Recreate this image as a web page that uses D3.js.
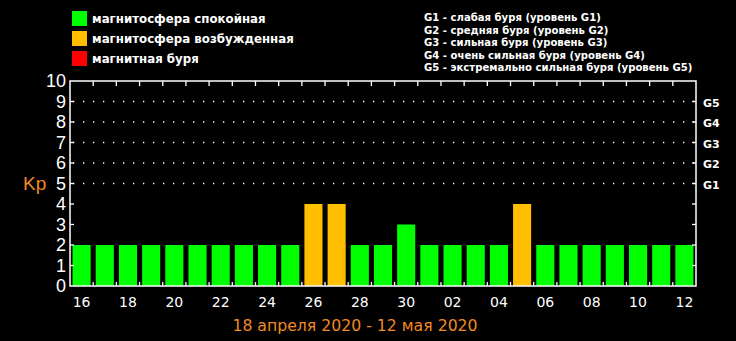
<!DOCTYPE html>
<html><head><meta charset="utf-8">
<script src="https://cdn.jsdelivr.net/npm/d3@7"></script>
<style>html,body{margin:0;padding:0;background:#000;}svg{display:block;}</style>
</head><body>
<script>
const days = ["16","17","18","19","20","21","22","23","24","25","26","27","28","29","30","01","02","03","04","05","06","07","08","09","10","11","12"];
const kp =   [2,2,2,2,2,2,2,2,2,2,4,4,2,2,3,2,2,2,2,4,2,2,2,2,2,2,2];
const yTicks = [0,1,2,3,4,5,6,7,8,9,10];
const gLevels = ["G1","G2","G3","G4","G5"];
const gDescriptions = [
  "G1 - слабая буря (уровень G1)",
  "G2 - средняя буря (уровень G2)",
  "G3 - сильная буря (уровень G3)",
  "G4 - очень сильная буря (уровень G4)",
  "G5 - экстремально сильная буря (уровень G5)"
];
const legendLabels = ["магнитосфера спокойная","магнитосфера возбужденная","магнитная буря"];
const legendColors = ["#00ff00","#ffbf00","#ff0000"];
const title = "18 апреля 2020 - 12 мая 2020";

const W = 736, H = 341;
const svg = d3.select("body").append("svg").attr("width", W).attr("height", H);
svg.append("rect").attr("width", W).attr("height", H).attr("fill", "#000");

const L = 70, R = 696, T = 81, B = 286;
const x = d3.scaleBand().domain(days.map((d,i)=>i)).range([L, R]).paddingInner(0.22).paddingOuter(0.11);
const y = d3.scaleLinear().domain([0,10]).range([B, T]);
const color = v => v >= 5 ? legendColors[2] : (v >= 4 ? legendColors[1] : legendColors[0]);

// dotted grid for 5..9
svg.append("g").selectAll("line").data([5,6,7,8,9]).join("line")
  .attr("x1", L+3).attr("x2", R).attr("y1", d=>y(d)).attr("y2", d=>y(d))
  .attr("stroke", "#fff").attr("stroke-width", 1.3).attr("stroke-dasharray", "1.3,8.7");

// bars
svg.append("g").selectAll("rect").data(kp).join("rect")
  .attr("x", (d,i)=>x(i)).attr("width", x.bandwidth())
  .attr("y", d=>y(d)).attr("height", d=>y(0)-y(d))
  .attr("fill", d=>color(d));

// frame
svg.append("rect").attr("x", L).attr("y", T).attr("width", R-L).attr("height", B-T)
  .attr("fill","none").attr("stroke","#fff").attr("stroke-width",1.5);

// band boundary ticks (top and bottom)
const step = x.step();
const bounds = d3.range(1, days.length).map(i => x(i) - step*x.paddingInner()/2);
const tg = svg.append("g").attr("stroke","#fff").attr("stroke-width",1.3);
tg.selectAll(".tb").data(bounds).join("line").attr("class","tb")
  .attr("x1", d=>d).attr("x2", d=>d).attr("y1", B).attr("y2", B-4);
tg.selectAll(".tt").data(bounds).join("line").attr("class","tt")
  .attr("x1", d=>d).attr("x2", d=>d).attr("y1", T).attr("y2", T+5);
// y ticks on left and right borders
tg.selectAll(".yl").data(yTicks.slice(1,10)).join("line").attr("class","yl")
  .attr("x1", L).attr("x2", L+4).attr("y1", d=>y(d)).attr("y2", d=>y(d));
tg.selectAll(".yr").data(yTicks.slice(1,10)).join("line").attr("class","yr")
  .attr("x1", R).attr("x2", R-4).attr("y1", d=>y(d)).attr("y2", d=>y(d));

// y labels
svg.append("g").selectAll("text").data(yTicks).join("text")
  .attr("x", 66).attr("y", d=>y(d)+6)
  .attr("text-anchor","end").attr("fill","#fff")
  .attr("font-family","Liberation Sans, Arial, sans-serif").attr("font-size", 18)
  .text(d=>d);

// Kp label
svg.append("text").attr("x", 23).attr("y", 190).attr("fill","#f08a24")
  .attr("font-family","Liberation Sans, Arial, sans-serif").attr("font-size", 19).text("Kp");

// G labels on right
svg.append("g").selectAll("text").data(gLevels).join("text")
  .attr("x", 703).attr("y", (d,i)=>y(5+i)+5)
  .attr("fill","#fff").attr("font-family","DejaVu Sans, sans-serif").attr("font-size", 11).attr("font-weight","bold")
  .text(d=>d);

// x labels every other day
svg.append("g").selectAll("text").data(days.map((d,i)=>({d,i})).filter(o=>o.i%2===0)).join("text")
  .attr("x", o=>x(o.i)+x.bandwidth()/2).attr("y", 307)
  .attr("text-anchor","middle").attr("fill","#fff")
  .attr("font-family","DejaVu Sans, Verdana, sans-serif").attr("font-size", 14)
  .text(o=>o.d);

// title
svg.append("text").attr("x", 355).attr("y", 331).attr("text-anchor","middle")
  .attr("fill","#f08a24").attr("font-family","DejaVu Sans, Verdana, sans-serif").attr("font-size", 15.7)
  .text(title);

// legend
const lg = svg.append("g");
lg.selectAll("rect").data(legendColors).join("rect")
  .attr("x", 72).attr("y", (d,i)=>11+i*20).attr("width", 15).attr("height", 15).attr("fill", d=>d);
lg.selectAll("text").data(legendLabels).join("text")
  .attr("x", 92).attr("y", (d,i)=>23+i*20).attr("fill","#fff")
  .attr("font-family","DejaVu Sans, sans-serif").attr("font-size", 11.8).attr("font-weight","bold")
  .text(d=>d);

// G descriptions
svg.append("g").selectAll("text").data(gDescriptions).join("text")
  .attr("x", 424).attr("y", (d,i)=>21+i*12.5).attr("fill","#fff")
  .attr("font-family","DejaVu Sans, sans-serif").attr("font-size", 10.1).attr("font-weight","bold")
  .text(d=>d);
</script>
</body></html>
